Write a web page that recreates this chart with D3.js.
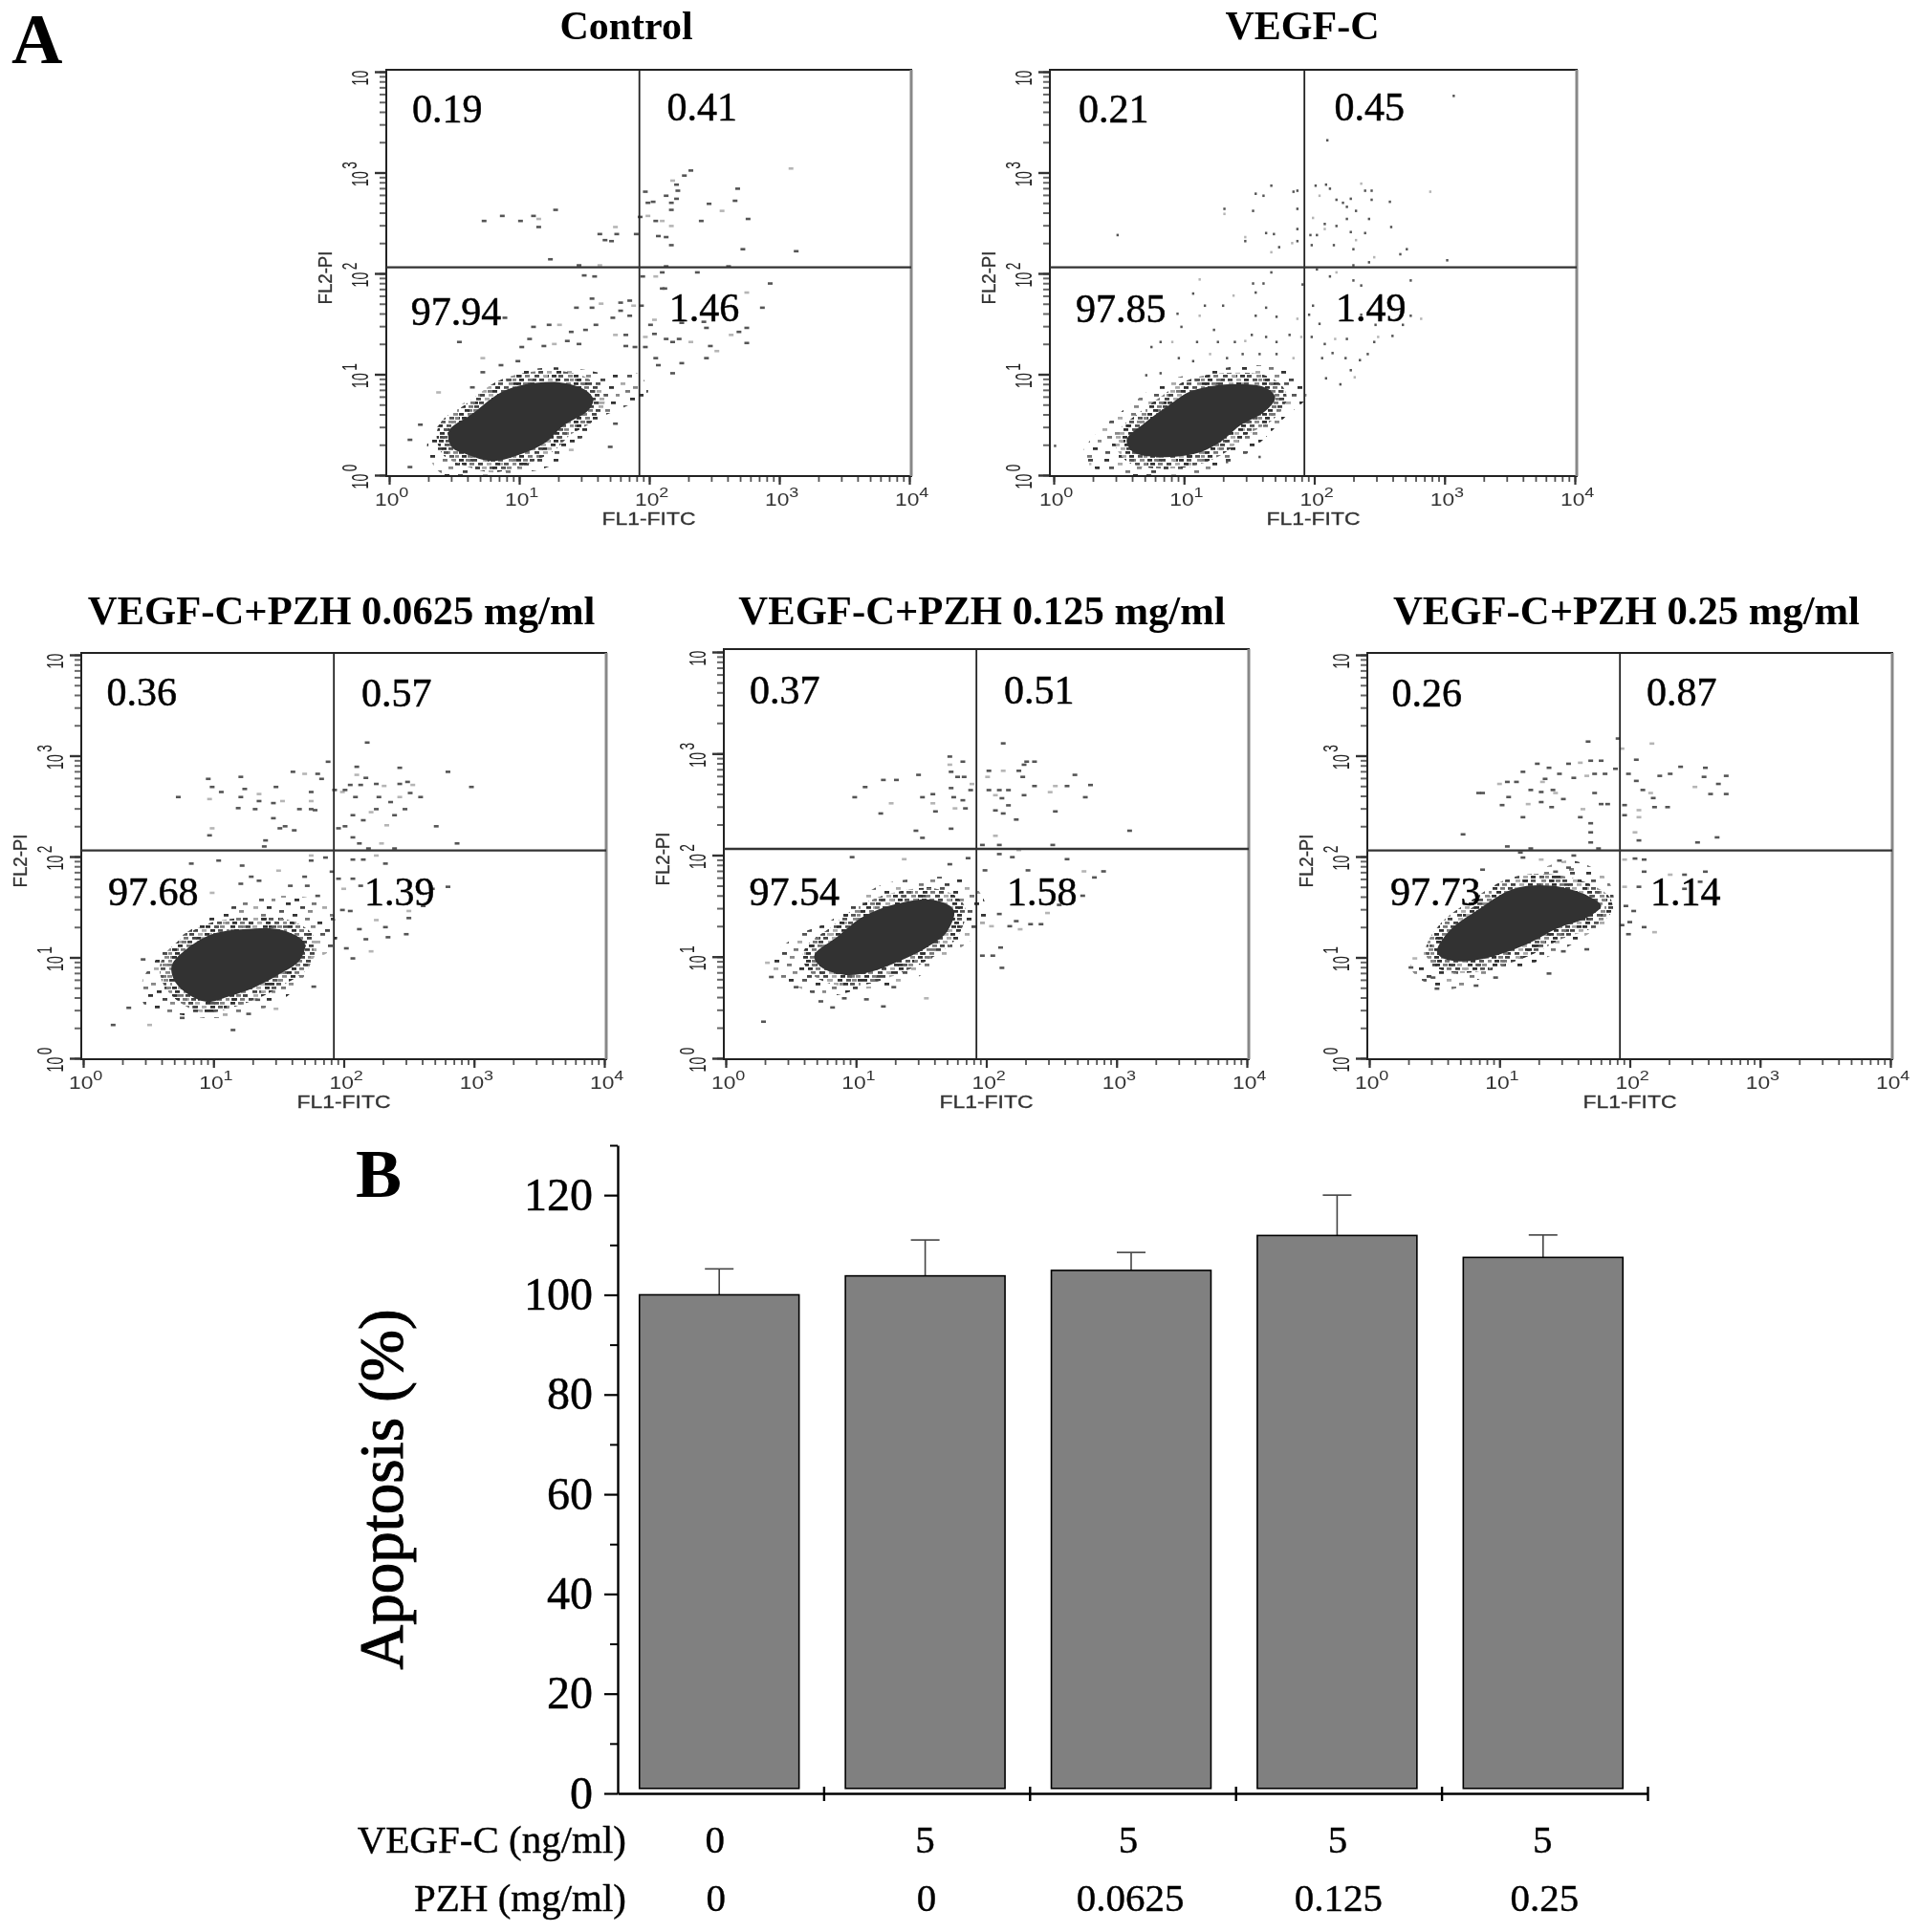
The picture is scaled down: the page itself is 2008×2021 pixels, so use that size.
<!DOCTYPE html>
<html><head><meta charset="utf-8"><title>Apoptosis</title>
<script src="https://cdn.jsdelivr.net/npm/d3@7/dist/d3.min.js"></script>
<style>html,body{margin:0;padding:0;background:#fff}svg{display:block}</style></head>
<body><div id="chart"></div>
<script>
// ---- Panel B values ----
const barCategories = ["Control","VEGF-C","PZH 0.0625","PZH 0.125","PZH 0.25"];
const apoptosisMean = [100, 103.8, 104.9, 111.9, 107.5];
const apoptosisUpper = [105.2, 111, 108.5, 120, 112];
const vegfLabels = ["0","5","5","5","5"];
const pzhLabels = ["0","0","0.0625","0.125","0.25"];
const barTicks = [0,20,40,60,80,100,120];
const barMinorTicks = [10,30,50,70,90,110,130];

// ---- Panel A values: log10(intensity) x 100, [FL1-FITC, FL2-PI] ----
const titles = ["Control","VEGF-C","VEGF-C+PZH 0.0625 mg/ml","VEGF-C+PZH 0.125 mg/ml","VEGF-C+PZH 0.25 mg/ml"];
const quadrantValues = [
 ["0.19","0.41","97.94","1.46"],["0.21","0.45","97.85","1.49"],["0.36","0.57","97.68","1.39"],
 ["0.37","0.51","97.54","1.58"],["0.26","0.87","97.73","1.14"]];
const quadrantGate = [84, 115];

const controlCore = [[46,44],[64,61],[86,82],[105,90],[131,92],[150,85],[157,75],[153,64],[134,49],[121,33],[102,21],[80,14],[61,20],[48,28]];
const controlHalo = [[29,28],[41,54],[64,78],[86,97],[115,106],[143,106],[166,101],[191,101],[199,82],[182,68],[159,54],[146,33],[124,9],[89,1],[41,1]];
const controlEvents = [[73,252],[87,257],[101,252],[111,257],[115,254],[115,246],[128,263],[124,214],[146,208],[162,208],[150,198],[158,197],[162,239],[166,233],[174,246],[171,232],[175,239],[190,239],[193,256],[199,257],[197,281],[199,270],[203,271],[205,252],[210,252],[213,277],[217,270],[221,274],[222,282],[218,292],[221,288],[227,297],[232,302],[217,263],[217,247],[207,237],[213,236],[217,228],[246,269],[256,262],[240,252],[266,272],[268,284],[276,254],[309,304],[313,222],[272,224],[293,190],[287,166],[275,181],[237,201],[261,207],[213,207],[210,201],[205,197],[195,197],[212,185],[210,185],[156,175],[163,170],[144,166],[156,166],[178,171],[185,173],[188,168],[178,163],[172,156],[185,158],[194,168],[204,154],[201,149],[225,151],[242,152],[244,146],[263,139],[269,142],[275,146],[275,131],[247,128],[252,123],[244,116],[225,111],[218,101],[207,109],[232,132],[218,132],[204,140],[223,135],[213,135],[197,137],[197,127],[205,116],[189,127],[182,128],[174,139],[182,139],[159,149],[151,144],[140,142],[131,149],[123,149],[111,147],[89,156],[54,132],[38,82],[24,50],[102,127],[108,135],[119,128],[127,130],[137,133],[146,130],[99,113],[86,109],[72,116],[72,102],[64,87],[170,28],[174,51],[140,25],[16,8],[16,35]];

const vegfCore = [[56,35],[70,52],[89,70],[105,83],[134,90],[162,87],[170,77],[162,63],[143,49],[127,32],[108,21],[80,18],[61,23]];
const vegfHalo = [[22,20],[35,44],[64,75],[83,92],[115,102],[153,109],[185,101],[194,78],[178,58],[159,33],[134,9],[108,1],[51,1],[32,6]];
const vegfEvents = [[308,376],[211,332],[50,238],[132,264],[132,259],[154,262],[156,279],[162,277],[168,287],[148,236],[148,232],[164,240],[170,239],[174,226],[168,221],[185,281],[188,282],[188,264],[188,244],[184,230],[188,232],[202,287],[210,288],[213,284],[205,277],[218,273],[223,270],[226,266],[229,274],[237,289],[240,282],[245,282],[245,273],[259,271],[290,281],[233,262],[226,254],[243,254],[209,249],[209,244],[218,247],[229,241],[240,240],[260,246],[200,255],[198,238],[203,238],[199,228],[216,228],[233,233],[231,224],[272,224],[267,219],[303,213],[247,216],[243,211],[231,208],[203,204],[168,201],[113,194],[154,190],[162,190],[192,189],[213,197],[218,201],[231,193],[237,188],[275,193],[108,180],[139,178],[156,181],[117,168],[131,168],[96,160],[113,158],[99,147],[156,158],[164,166],[172,157],[188,155],[197,159],[200,168],[205,150],[275,158],[283,155],[269,149],[248,149],[237,159],[261,138],[250,137],[247,132],[242,120],[236,114],[226,135],[217,135],[209,130],[215,121],[225,116],[229,104],[232,97],[221,90],[210,96],[207,116],[199,137],[191,137],[182,139],[172,132],[164,137],[153,139],[148,133],[140,132],[127,132],[124,144],[111,132],[92,132],[83,132],[76,127],[97,116],[108,113],[121,120],[134,116],[146,120],[159,120],[172,120],[185,116],[72,99],[83,101],[159,18],[2,29],[29,11],[134,13]];

const pzh1Core = [[68,92],[80,109],[99,123],[124,128],[153,127],[170,114],[166,97],[150,83],[131,70],[111,61],[95,56],[80,64],[70,77]];
const pzh1Halo = [[45,75],[64,109],[92,135],[115,151],[153,161],[188,151],[194,113],[178,96],[159,64],[134,47],[102,40],[70,44],[48,51]];
const pzh1Events = [[73,259],[96,277],[99,269],[106,264],[97,257],[121,279],[124,267],[121,259],[119,248],[135,262],[135,255],[132,247],[148,269],[146,253],[153,255],[146,238],[151,228],[155,230],[162,226],[99,228],[97,221],[140,216],[139,210],[161,284],[170,282],[180,282],[183,277],[188,294],[175,264],[175,255],[166,247],[175,247],[178,246],[193,266],[199,264],[201,266],[196,228],[201,230],[210,289],[210,281],[217,278],[205,271],[213,271],[225,272],[231,270],[218,313],[243,288],[243,272],[249,274],[253,271],[280,284],[298,269],[251,263],[259,259],[243,259],[227,259],[209,259],[236,254],[225,247],[221,244],[207,241],[215,236],[239,241],[247,247],[233,231],[271,230],[287,213],[207,219],[212,213],[229,213],[219,208],[239,208],[83,193],[104,196],[175,201],[186,199],[175,196],[207,197],[215,197],[225,201],[232,193],[191,185],[196,178],[207,178],[150,186],[122,191],[129,180],[135,176],[121,173],[99,164],[170,180],[159,171],[172,171],[180,161],[200,168],[213,171],[280,170],[268,168],[261,151],[250,146],[250,139],[232,130],[248,123],[234,120],[221,106],[207,99],[202,109],[217,118],[212,128],[225,137],[205,146],[199,147],[35,50],[23,33],[51,33],[115,28],[46,98],[76,40],[127,44],[148,49],[134,58],[177,71]];

const pzh2Core = [[68,101],[86,120],[105,139],[131,152],[159,156],[175,146],[170,125],[153,108],[134,96],[111,85],[92,82],[73,90]];
const pzh2Halo = [[32,92],[54,120],[80,135],[115,168],[140,176],[185,175],[199,154],[201,130],[188,116],[166,96],[134,71],[105,68],[76,61],[54,71]];
const pzh2Events = [[99,257],[107,267],[121,274],[131,274],[127,251],[119,241],[148,279],[151,257],[159,260],[159,251],[161,243],[146,224],[151,217],[172,297],[172,289],[182,292],[173,282],[178,277],[183,277],[189,270],[188,264],[173,266],[175,257],[182,254],[176,246],[184,246],[173,226],[213,310],[202,283],[213,283],[225,283],[231,292],[237,292],[229,289],[201,277],[228,277],[202,264],[210,264],[217,264],[207,259],[212,256],[217,249],[229,259],[237,268],[253,268],[262,268],[268,279],[280,269],[276,257],[249,262],[253,243],[223,235],[207,244],[213,241],[207,219],[197,210],[210,210],[251,210],[310,224],[225,205],[220,198],[210,201],[262,196],[97,198],[137,196],[186,197],[172,191],[199,185],[232,185],[275,184],[283,178],[290,184],[274,160],[256,151],[247,143],[242,132],[234,132],[223,135],[218,130],[226,127],[211,109],[212,89],[205,101],[197,101],[204,130],[210,142],[29,36],[82,50],[121,51],[154,59],[129,70],[73,56],[91,59],[108,58],[32,94],[35,80],[54,70]];

const pzh3Core = [[52,106],[62,127],[82,146],[111,168],[140,171],[168,161],[178,151],[168,140],[143,128],[121,113],[95,101],[73,96],[57,99]];
const pzh3Halo = [[32,90],[51,120],[73,144],[111,175],[127,185],[156,196],[184,175],[186,140],[168,123],[146,106],[121,92],[92,82],[57,68]];
const pzh3Events = [[87,263],[84,263],[72,222],[118,284],[100,272],[106,274],[113,274],[107,259],[102,251],[122,252],[118,239],[129,292],[138,288],[146,282],[133,274],[135,277],[124,266],[132,264],[141,266],[143,263],[132,254],[140,249],[149,257],[153,292],[162,293],[170,295],[178,295],[168,314],[157,278],[167,280],[173,282],[181,282],[191,317],[189,287],[194,307],[205,296],[199,282],[205,275],[210,266],[216,263],[218,258],[223,280],[231,282],[239,289],[217,312],[258,288],[257,279],[274,280],[268,272],[250,269],[262,262],[274,262],[229,249],[219,249],[207,246],[196,251],[183,252],[178,252],[173,263],[164,247],[162,239],[170,233],[170,224],[170,214],[204,224],[207,216],[252,214],[267,219],[196,241],[207,239],[106,210],[116,204],[124,208],[176,208],[196,197],[204,198],[211,197],[211,185],[258,185],[231,182],[242,182],[254,175],[242,168],[207,170],[196,170],[197,151],[203,146],[200,135],[211,130],[219,125],[199,123],[194,132],[87,187],[118,199],[132,197],[146,196],[157,201],[143,185],[153,189],[35,99],[32,90],[49,80],[52,69],[82,72],[65,85],[97,80],[138,84],[167,108],[149,106]];

const coreSets = [controlCore, vegfCore, pzh1Core, pzh2Core, pzh3Core];
const haloSets = [controlHalo, vegfHalo, pzh1Halo, pzh2Halo, pzh3Halo];
const eventSets = [controlEvents, vegfEvents, pzh1Events, pzh2Events, pzh3Events];

// ---- Layout (separate from the data) ----
const panelFrames = [
 {l:404, r:953, t:73, b:498, x0:407, x4:951, y0:497, y4:75, tx:655, ty:41},
 {l:1098,r:1649,t:73, b:498, x0:1102,x4:1647,y0:497, y4:75, tx:1362,ty:41},
 {l:85,  r:634, t:683,b:1108,x0:87,  x4:632, y0:1107,y4:685,tx:357, ty:653},
 {l:757, r:1306,t:679,b:1108,x0:759, x4:1304,y0:1107,y4:682,tx:1027,ty:653},
 {l:1430,r:1979,t:683,b:1108,x0:1432,x4:1977,y0:1107,y4:685,tx:1701,ty:653}];
const quadrantOffsets = [
 [[27,54.5],[293.6,53],[25.7,267],[295.7,263]],
 [[30,54.5],[297.5,53],[27,263.5],[299,263]],
 [[26.5,54.5],[293,56],[28,263.5],[296,263.5]],
 [[27,57],[293,57],[26.5,267.5],[296,267.5]],
 [[25.6,56],[292,54.5],[24,264],[296,264]]];

const svg = d3.select("#chart").append("svg").attr("width",2008).attr("height",2021)
  .attr("viewBox","0 0 2008 2021").style("background","#fff");
const SERIF = "'Liberation Serif','Times New Roman',serif", SANS = "'Liberation Sans',Arial,sans-serif";

const defs = svg.append("defs");
defs.append("filter").attr("id","soft").append("feGaussianBlur").attr("stdDeviation",0.6);
// Speckle textures for the unresolved events round the dense population
const tones = ["#333","#777","#444","#aaa","#333","#555","#888"];
const denseRows = [[0,[0,7,14,25,33,41,52]],[4,[3,11,20,29,38,47,56]],[8,[1,9,17,24,35,44,50]],[12,[5,13,22,31,40,48,57]],[16,[0,8,18,27,34,43,53]],[20,[4,12,21,30,39,46,55]],[24,[2,10,16,26,36,45,51]],[28,[6,15,23,32,42,49,58]],[32,[0,9,19,28,37,44,54]],[36,[3,12,24,33,41,50,56]]];
const sparseRows = [[0,[3,31,58]],[4,[17,44]],[8,[8,37,65]],[12,[25,52]],[16,[1,33,47]],[20,[14,61]],[24,[6,28,42]],[28,[20,55,68]],[32,[11,38]],[36,[26,49,63]],[40,[4,34]],[44,[18,57]]];
function speckle(id, rows, w, h){
  const cells = rows.flatMap(r=>r[1].map(x=>[x,r[0]]));
  const p = defs.append("pattern").attr("id",id).attr("patternUnits","userSpaceOnUse").attr("width",w).attr("height",h);
  p.selectAll("rect").data(cells).join("rect")
   .attr("x",d=>d[0]).attr("y",d=>d[1]).attr("width",5).attr("height",2.8).attr("fill",(d,i)=>tones[i%tones.length]);
}
speckle("sparse",sparseRows,72,48);
speckle("dense",denseRows,60,40);

const dec = v => Math.pow(10, v/100);
const minorLog = [];
[1,10,100,1000].forEach(b=>[1,2,3,4,5,6,7,8,9].forEach(m=>minorLog.push(b*m)));
minorLog.push(10000);
const majorLog = [1,10,100,1000,10000];

panelFrames.forEach((f,i)=>{
  const x = d3.scaleLog().domain([1,1e4]).range([f.x0,f.x4]);
  const y = d3.scaleLog().domain([1,1e4]).range([f.y0,f.y4]);
  const g = svg.append("g").attr("class","panel");
  const soft = g.append("g").attr("filter","url(#soft)");
  const line = d3.line().x(d=>x(dec(d[0]))).y(d=>y(dec(d[1]))).curve(d3.curveCatmullRomClosed.alpha(.5));

  soft.append("path").attr("d",line(haloSets[i])).attr("fill","url(#sparse)");
  soft.selectAll("rect.event").data(eventSets[i]).join("rect").attr("class","event")
    .attr("x",d=>x(dec(d[0]))-2.5).attr("y",d=>y(dec(d[1]))-1.3).attr("width",i===1?2.4:5).attr("height",2.6)
    .attr("fill",(d,k)=> k%5===4 ? "#b5b5b5" : "#555");
  soft.append("path").attr("d",line(coreSets[i])).attr("fill","none").attr("stroke","url(#dense)").attr("stroke-width",24);
  soft.append("path").attr("d",line(coreSets[i])).attr("fill","#333");

  // axes
  const axB = g.append("g").attr("transform",`translate(0,${f.b})`).call(d3.axisBottom(x).tickValues(minorLog).tickSize(6).tickFormat(""));
  axB.select(".domain").remove();
  axB.selectAll("line").attr("stroke","#555").attr("stroke-width",1.8);
  const axBM = g.append("g").attr("transform",`translate(0,${f.b})`).call(d3.axisBottom(x).tickValues(majorLog).tickSize(9).tickFormat(""));
  axBM.select(".domain").remove();
  axBM.selectAll("line").attr("stroke","#333").attr("stroke-width",2.2);
  const axL = g.append("g").attr("transform",`translate(${f.l},0)`).call(d3.axisLeft(y).tickValues(minorLog).tickSize(7).tickFormat(""));
  axL.select(".domain").remove();
  axL.selectAll("line").attr("stroke","#666").attr("stroke-width",2);
  const axLM = g.append("g").attr("transform",`translate(${f.l},0)`).call(d3.axisLeft(y).tickValues(majorLog).tickSize(12).tickFormat(""));
  axLM.select(".domain").remove();
  axLM.selectAll("line").attr("stroke","#333").attr("stroke-width",2.4);

  // frame + gates
  g.append("rect").attr("x",f.l).attr("y",f.t).attr("width",f.r-f.l).attr("height",f.b-f.t).attr("fill","none").attr("stroke","#222").attr("stroke-width",2);
  g.append("line").attr("x1",f.r).attr("x2",f.r).attr("y1",f.t).attr("y2",f.b).attr("stroke","#888").attr("stroke-width",3);
  g.append("line").attr("x1",x(quadrantGate[0])).attr("x2",x(quadrantGate[0])).attr("y1",f.t).attr("y2",f.b).attr("stroke","#222").attr("stroke-width",1.8);
  g.append("line").attr("x1",f.l).attr("x2",f.r).attr("y1",y(quadrantGate[1])).attr("y2",y(quadrantGate[1])).attr("stroke","#333").attr("stroke-width",2.4);

  // tick labels
  const tl = g.append("g").attr("filter","url(#soft)");
  majorLog.forEach((v,k)=>{
    const tx = x(v), ty = y(v);
    const xl = tl.append("text").attr("transform",`translate(${tx-15},${f.b+31}) scale(1.2,1)`)
      .attr("font-family",SANS).attr("font-size",19).attr("fill","#333");
    xl.append("tspan").text("10");
    xl.append("tspan").attr("dy",-9).attr("font-size",15).text(k);
    const yl = tl.append("text").attr("transform",`translate(${f.l-19.5},${ty+14.5}) rotate(-90) scale(.62,1)`)
      .attr("font-family",SANS).attr("font-size",23).attr("fill","#222");
    yl.append("tspan").text("10");
    if(k<4) yl.append("tspan").attr("dx",4).attr("dy",-12).attr("font-size",22).text(k);
  });
  tl.append("text").attr("x",(f.l+f.r)/2).attr("y",f.b+50.5).attr("text-anchor","middle")
    .attr("font-family",SANS).attr("font-size",18).attr("fill","#333").attr("stroke","#333").attr("stroke-width",.3)
    .attr("textLength",98).attr("lengthAdjust","spacingAndGlyphs").text("FL1-FITC");
  tl.append("text").attr("transform",`translate(${f.l-57},${(f.t+f.b)/2+5}) rotate(-90)`).attr("text-anchor","middle")
    .attr("font-family",SANS).attr("font-size",20).attr("fill","#333").attr("stroke","#333").attr("stroke-width",.3)
    .attr("textLength",56).attr("lengthAdjust","spacingAndGlyphs").text("FL2-PI");

  // quadrant percentages
  g.selectAll("text.q").data(quadrantValues[i]).join("text").attr("class","q")
    .attr("x",(d,k)=>f.l+quadrantOffsets[i][k][0]).attr("y",(d,k)=>f.t+quadrantOffsets[i][k][1])
    .attr("font-family",SERIF).attr("font-size",42).attr("fill","#000").attr("stroke","#000").attr("stroke-width",.5).text(d=>d);

  // panel title
  svg.append("text").attr("x",f.tx).attr("y",f.ty).attr("text-anchor","middle")
    .attr("font-family",SERIF).attr("font-weight","bold").attr("font-size",i<2?42:42.7).attr("fill","#000").text(titles[i]);
});

svg.append("text").attr("x",12).attr("y",66).attr("font-family",SERIF).attr("font-weight","bold").attr("font-size",74).text("A");
svg.append("text").attr("x",372).attr("y",1252).attr("font-family",SERIF).attr("font-weight","bold").attr("font-size",72).text("B");

// ---- Panel B ----
const yBar = d3.scaleLinear().domain([0,130]).range([1876,1198]);
const xBar = d3.scaleBand().domain(barCategories).range([644.5,1721.5]).paddingInner(.225).paddingOuter(.1125);
const xEdge = d3.scaleLinear().domain([0,5]).range([646,1723]);
const barBase = 1;
const gb = svg.append("g");

const bars = gb.selectAll("g.bar").data(barCategories).join("g").attr("class","bar");
bars.append("line").attr("x1",d=>xBar(d)+xBar.bandwidth()/2).attr("x2",d=>xBar(d)+xBar.bandwidth()/2)
  .attr("y1",(d,i)=>yBar(apoptosisMean[i])).attr("y2",(d,i)=>yBar(apoptosisUpper[i])).attr("stroke","#444").attr("stroke-width",1.6);
bars.append("line").attr("x1",d=>xBar(d)+xBar.bandwidth()/2-15).attr("x2",d=>xBar(d)+xBar.bandwidth()/2+15)
  .attr("y1",(d,i)=>yBar(apoptosisUpper[i])).attr("y2",(d,i)=>yBar(apoptosisUpper[i])).attr("stroke","#444").attr("stroke-width",1.6);
bars.append("rect").attr("x",d=>xBar(d)).attr("width",xBar.bandwidth())
  .attr("y",(d,i)=>yBar(apoptosisMean[i])).attr("height",(d,i)=>yBar(barBase)-yBar(apoptosisMean[i]))
  .attr("fill","#808080").attr("stroke","#000").attr("stroke-width",1.6);

const axisY = gb.append("g").attr("transform","translate(646,0)")
  .call(d3.axisLeft(yBar).tickValues(barTicks).tickSize(14).tickPadding(12).tickSizeOuter(0));
axisY.select(".domain").attr("stroke","#000").attr("stroke-width",2.4);
axisY.selectAll("line").attr("stroke","#000").attr("stroke-width",2.2);
axisY.selectAll("text").attr("font-family",SERIF).attr("font-size",48).attr("fill","#000").attr("stroke","#000").attr("stroke-width",.5).attr("dy","15px");
const axisYm = gb.append("g").attr("transform","translate(646,0)")
  .call(d3.axisLeft(yBar).tickValues(barMinorTicks).tickSize(8).tickFormat("").tickSizeOuter(0));
axisYm.select(".domain").remove();
axisYm.selectAll("line").attr("stroke","#000").attr("stroke-width",2);

const axisX = gb.append("g").attr("transform","translate(0,1876)")
  .call(d3.axisBottom(xEdge).tickValues([1,2,3,4,5]).tickSize(8).tickFormat("").tickSizeOuter(0));
axisX.select(".domain").attr("stroke","#000").attr("stroke-width",2.6);
axisX.selectAll("line").attr("y1",-7).attr("stroke","#000").attr("stroke-width",2.4);

gb.append("text").attr("transform","translate(421,1558) rotate(-90)").attr("text-anchor","middle")
  .attr("font-family",SERIF).attr("font-size",65).attr("fill","#000").attr("stroke","#000").attr("stroke-width",1).text("Apoptosis (%)");

const rowOffsets = [[-4.5,0,-3,0.5,-0.5],[-3.5,1.5,-1,1.5,1.5]];
[[vegfLabels,1938,"VEGF-C (ng/ml)"],[pzhLabels,1999,"PZH (mg/ml)"]].forEach((r,ri)=>{
  gb.append("text").attr("x",655).attr("y",r[1]).attr("text-anchor","end")
    .attr("font-family",SERIF).attr("font-size",41).attr("fill","#000").attr("stroke","#000").attr("stroke-width",.4).text(r[2]);
  gb.selectAll("text.r"+ri).data(r[0]).join("text").attr("class","r"+ri)
    .attr("x",(d,i)=>xBar(barCategories[i])+xBar.bandwidth()/2+rowOffsets[ri][i]).attr("y",r[1]).attr("text-anchor","middle")
    .attr("font-family",SERIF).attr("font-size",41).attr("fill","#000").attr("stroke","#000").attr("stroke-width",.4).text(d=>d);
});
</script></body></html>
